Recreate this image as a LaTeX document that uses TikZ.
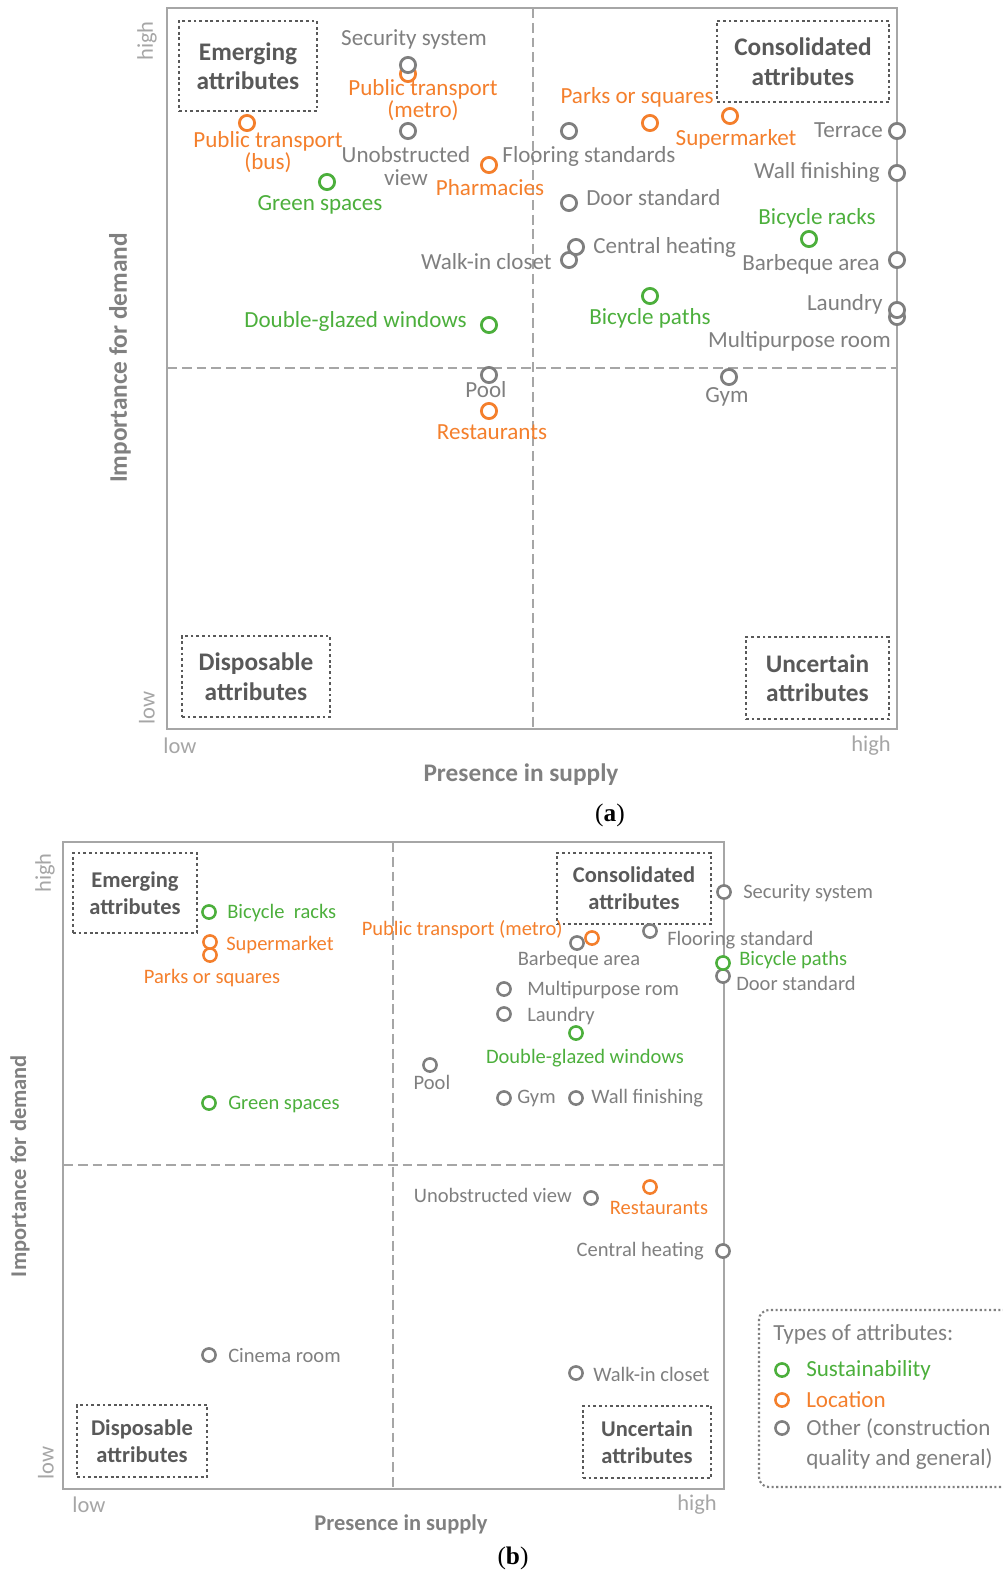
\documentclass[tikz,border=0pt]{standalone}
\usepackage{fontspec}
\setmainfont{Carlito}
\newfontfamily\capfont{Liberation Serif}
\definecolor{axisgray}{HTML}{A6A6A6}
\definecolor{txtgray}{HTML}{808080}
\definecolor{boxgray}{HTML}{595959}
\definecolor{susgreen}{HTML}{4CAF3C}
\definecolor{locorange}{HTML}{F47F2C}
\definecolor{othgray}{HTML}{7F7F7F}
\tikzset{
  pt/.style={circle, draw=#1, fill=white, line width=2pt, minimum size=0.38cm, inner sep=0pt},
  ptb/.style={pt=#1, line width=1.8pt, minimum size=0.33cm},
  lbl/.style={inner sep=0pt, text=#1, align=center, font=\fontsize{16.4}{15.8}\selectfont},
  lblb/.style={inner sep=0pt, text=#1, align=center, font=\fontsize{14.6}{15}\selectfont},
  quad/.style={draw=boxgray, line width=2pt, dash pattern=on 2pt off 2pt, text=boxgray,
    align=center, inner sep=0pt, font=\bfseries\fontsize{18}{21}\selectfont},
  quadb/.style={quad, font=\bfseries\fontsize{16}{19}\selectfont},
  frame/.style={draw=axisgray, line width=2.1pt},
  split/.style={draw=axisgray, line width=2pt, dash pattern=on 7pt off 3.5pt},
  tick/.style={inner sep=0pt, text=axisgray, font=\fontsize{16}{16}\selectfont},
  axtitle/.style={inner sep=0pt, text=txtgray, font=\bfseries\fontsize{18}{18}\selectfont},
  axtitleb/.style={axtitle, font=\bfseries\fontsize{16}{16}\selectfont},
  capt/.style={inner sep=0pt, font=\capfont\fontsize{18}{18}\selectfont},
}
\begin{document}
\begin{tikzpicture}[x=0.025cm, y=-0.025cm]
  \useasboundingbox (0,0) rectangle (1003,1573);

  % ---------- (a) ----------
  % frame and quadrants
  \coordinate (a-nw) at (167,8);
  \coordinate (a-se) at (897,729);
  \draw[frame] (a-nw) rectangle (a-se);
  \draw[split] (533,8) -- (533,729);
  \draw[split] (167,368) -- (897,368);

  % quadrant boxes
  \node[quad, minimum width=3.45cm, minimum height=2.25cm] (a-emerg) at (248,66) {Emerging\\attributes};
  \node[quad, minimum width=4.3cm, minimum height=2.025cm] (a-consol) at (803,61.5) {Consolidated\\attributes};
  \node[quad, minimum width=3.7cm, minimum height=2.025cm] (a-dispos) at (256,676.5) {Disposable\\attributes};
  \node[quad, minimum width=3.575cm, minimum height=2.05cm] (a-uncert) at (817.5,678) {Uncertain\\attributes};

  % axes
  \node[tick, rotate=90] (a-yhigh) at (147,41) {high};
  \node[tick, rotate=90] (a-ylow) at (147,708) {low};
  \node[tick] (a-xlow) at (180,746) {low};
  \node[tick] (a-xhigh) at (871,746) {high};
  \node[axtitle] (a-xtitle) at (521,775) {Presence in supply};
  \node[axtitle, rotate=90] (a-ytitle) at (120,358) {Importance for demand};
  \node[capt] (a-capt) at (610,815) {(\textbf{a})};

  % points
  \node[pt=locorange] (a-metro) at (408,74) {};
  \node[pt=othgray] (a-sec) at (408,65) {};
  \node[pt=othgray] (a-view) at (408,131) {};
  \node[pt=locorange] (a-bus) at (247,123) {};
  \node[pt=susgreen] (a-green) at (327,182) {};
  \node[pt=locorange] (a-pharm) at (489,165) {};
  \node[pt=othgray] (a-floor) at (569,131) {};
  \node[pt=locorange] (a-parks) at (650,123) {};
  \node[pt=locorange] (a-super) at (730,116) {};
  \node[pt=othgray] (a-terr) at (897,131) {};
  \node[pt=othgray] (a-wall) at (897,173) {};
  \node[pt=othgray] (a-door) at (569,203) {};
  \node[pt=susgreen] (a-racks) at (809,239) {};
  \node[pt=othgray] (a-closet) at (569,260) {};
  \node[pt=othgray] (a-heat) at (576,247) {};
  \node[pt=othgray] (a-bbq) at (897,260) {};
  \node[pt=susgreen] (a-paths) at (650,296) {};
  \node[pt=othgray] (a-multi) at (897,317) {};
  \node[pt=othgray] (a-laund) at (897,310) {};
  \node[pt=susgreen] (a-glaze) at (489,325) {};
  \node[pt=othgray] (a-pool) at (489,375) {};
  \node[pt=othgray] (a-gym) at (729,377) {};
  \node[pt=locorange] (a-rest) at (489,411) {};

  % labels
  \node[lbl=othgray] (a-sec-t) at (414,39) {Security system};
  \node[lbl=locorange] (a-metro-t) at (423,100) {Public transport\\(metro)};
  \node[lbl=othgray] (a-view-t) at (406,166) {Unobstructed\\view};
  \node[lbl=locorange] (a-bus-t) at (268,152) {Public transport\\(bus)};
  \node[lbl=susgreen] (a-green-t) at (320,205) {Green spaces};
  \node[lbl=locorange] (a-pharm-t) at (490,188) {Pharmacies};
  \node[lbl=othgray] (a-floor-t) at (589,156) {Flooring standards};
  \node[lbl=locorange] (a-parks-t) at (637,97) {Parks or squares};
  \node[lbl=locorange] (a-super-t) at (736,139) {Supermarket};
  \node[lbl=othgray, anchor=east] (a-terr-t) at (883,130) {Terrace};
  \node[lbl=othgray, anchor=east] (a-wall-t) at (880,172) {Wall finishing};
  \node[lbl=othgray, anchor=west] (a-door-t) at (586,198) {Door standard};
  \node[lbl=susgreen] (a-racks-t) at (817,218) {Bicycle racks};
  \node[lbl=othgray, anchor=west] (a-heat-t) at (593,247) {Central heating};
  \node[lbl=othgray, anchor=east] (a-closet-t) at (552,262) {Walk-in closet};
  \node[lbl=othgray, anchor=east] (a-bbq-t) at (880,264) {Barbeque area};
  \node[lbl=susgreen] (a-paths-t) at (650,318) {Bicycle paths};
  \node[lbl=othgray, anchor=east] (a-laund-t) at (883,304) {Laundry};
  \node[lbl=othgray, anchor=east] (a-multi-t) at (891,341) {Multipurpose room};
  \node[lbl=susgreen, anchor=east] (a-glaze-t) at (467,321) {Double-glazed windows};
  \node[lbl=othgray] (a-pool-t) at (486,390) {Pool};
  \node[lbl=othgray] (a-gym-t) at (727,397) {Gym};
  \node[lbl=locorange] (a-rest-t) at (492,432) {Restaurants};

  % ---------- (b) ----------
  % frame and quadrants
  \coordinate (b-nw) at (63,842);
  \coordinate (b-se) at (724,1489);
  \draw[frame] (b-nw) rectangle (b-se);
  \draw[split] (393,842) -- (393,1489);
  \draw[split] (63,1165) -- (724,1165);

  % quadrant boxes
  \node[quadb, minimum width=3.1cm, minimum height=2.0cm] (b-emerg) at (135,893) {Emerging\\attributes};
  \node[quadb, minimum width=3.85cm, minimum height=1.775cm] (b-consol) at (634,888.5) {Consolidated\\attributes};
  \node[quadb, minimum width=3.25cm, minimum height=1.8cm] (b-dispos) at (142,1441) {Disposable\\attributes};
  \node[quadb, minimum width=3.2cm, minimum height=1.8cm] (b-uncert) at (647,1442) {Uncertain\\attributes};

  % axes
  \node[tick, rotate=90] (b-yhigh) at (45,873) {high};
  \node[tick, rotate=90] (b-ylow) at (46,1463) {low};
  \node[tick] (b-xlow) at (89,1505) {low};
  \node[tick] (b-xhigh) at (697,1505) {high};
  \node[axtitleb] (b-xtitle) at (401,1524) {Presence in supply};
  \node[axtitleb, rotate=90] (b-ytitle) at (20,1166) {Importance for demand};
  \node[capt] (b-capt) at (513,1558) {(\textbf{b})};

  % points
  \node[ptb=othgray] (b-sec) at (724,892) {};
  \node[ptb=othgray] (b-bbq) at (577,943) {};
  \node[ptb=locorange] (b-metro) at (592,938) {};
  \node[ptb=othgray] (b-floor) at (650,931) {};
  \node[ptb=othgray] (b-door) at (723,976) {};
  \node[ptb=susgreen] (b-paths) at (723,963) {};
  \node[ptb=othgray] (b-multi) at (504,989) {};
  \node[ptb=othgray] (b-laund) at (504,1014) {};
  \node[ptb=susgreen] (b-glaze) at (576,1033) {};
  \node[ptb=othgray] (b-pool) at (430,1065) {};
  \node[ptb=othgray] (b-gym) at (504,1098) {};
  \node[ptb=othgray] (b-wall) at (576,1098) {};
  \node[ptb=susgreen] (b-racks) at (209,912) {};
  \node[ptb=locorange] (b-parks) at (210,955) {};
  \node[ptb=locorange] (b-super) at (210,942) {};
  \node[ptb=susgreen] (b-green) at (209,1103) {};
  \node[ptb=othgray] (b-cinema) at (209,1355) {};
  \node[ptb=othgray] (b-view) at (591,1198) {};
  \node[ptb=locorange] (b-rest) at (650,1187) {};
  \node[ptb=othgray] (b-heat) at (723,1251) {};
  \node[ptb=othgray] (b-closet) at (576,1373) {};

  % labels
  \node[lblb=othgray, anchor=west] (b-sec-t) at (743,893) {Security system};
  \node[lblb=locorange, anchor=east] (b-metro-t) at (563,930) {Public transport (metro)};
  \node[lblb=othgray] (b-bbq-t) at (579,960) {Barbeque area};
  \node[lblb=othgray, anchor=west] (b-floor-t) at (667,940) {Flooring standard};
  \node[lblb=susgreen, anchor=west] (b-paths-t) at (739,960) {Bicycle paths};
  \node[lblb=othgray, anchor=west] (b-door-t) at (736,983) {Door standard};
  \node[lblb=othgray, anchor=west] (b-multi-t) at (527,990) {Multipurpose rom};
  \node[lblb=othgray, anchor=west] (b-laund-t) at (527,1016) {Laundry};
  \node[lblb=susgreen] (b-glaze-t) at (585,1058) {Double-glazed windows};
  \node[lblb=othgray] (b-pool-t) at (432,1082) {Pool};
  \node[lblb=othgray, anchor=west] (b-gym-t) at (517,1098) {Gym};
  \node[lblb=othgray, anchor=west] (b-wall-t) at (591,1098) {Wall finishing};
  \node[lblb=susgreen, anchor=west] (b-racks-t) at (227,913) {Bicycle\ \ racks};
  \node[lblb=locorange, anchor=west] (b-super-t) at (226,945) {Supermarket};
  \node[lblb=locorange] (b-parks-t) at (212,978) {Parks or squares};
  \node[lblb=susgreen, anchor=west] (b-green-t) at (228,1104) {Green spaces};
  \node[lblb=othgray, anchor=west] (b-cinema-t) at (228,1355) {Cinema room};
  \node[lblb=othgray, anchor=east] (b-view-t) at (572,1195) {Unobstructed view};
  \node[lblb=locorange] (b-rest-t) at (659,1208) {Restaurants};
  \node[lblb=othgray, anchor=east] (b-heat-t) at (704,1251) {Central heating};
  \node[lblb=othgray, anchor=west] (b-closet-t) at (593,1374) {Walk-in closet};

  % legend
  \node[draw=othgray, line width=1.5pt, dash pattern=on 1.5pt off 1.8pt, rounded corners=0.25cm,
    minimum width=6.4cm, minimum height=4.425cm] (legend) at (887,1398.5) {};
  \node[lbl=othgray, anchor=west] (leg-title) at (773,1334) {Types of attributes:};
  \node[ptb=susgreen] (leg-sus) at (782,1370) {};
  \node[ptb=locorange] (leg-loc) at (782,1400) {};
  \node[ptb=othgray] (leg-oth) at (782,1428) {};
  \node[lbl=susgreen, anchor=west] (leg-sus-t) at (806,1370) {Sustainability};
  \node[lbl=locorange, anchor=west] (leg-loc-t) at (806,1400) {Location};
  \node[lbl=othgray, anchor=west, align=left, font=\fontsize{16.4}{21}\selectfont] (leg-oth-t) at (806,1444) {Other (construction\\quality and general)};
\end{tikzpicture}
\end{document}
